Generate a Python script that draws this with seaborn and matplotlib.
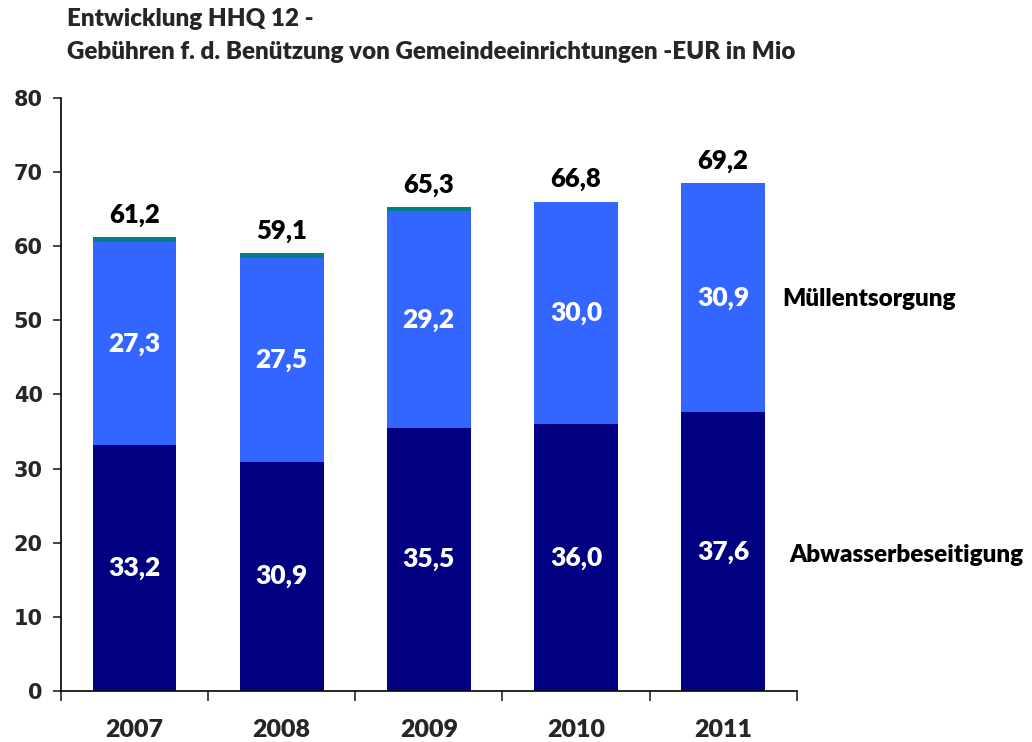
import seaborn as sns
import pandas as pd
import numpy as np
import matplotlib.pyplot as plt

# Data (EUR in Mio)
years = ["2007", "2008", "2009", "2010", "2011"]
abwasser = [33.2, 30.9, 35.5, 36.0, 37.6]
muell = [27.3, 27.5, 29.2, 30.0, 30.9]
sonstige = [0.7, 0.7, 0.6, 0.0, 0.0]
totals = [61.2, 59.1, 65.3, 66.8, 69.2]

df = pd.DataFrame({"Jahr": years, "Abwasser": abwasser, "Muell": muell, "Sonst": sonstige})

sns.set_theme(style="white")
plt.rcParams['font.family'] = ['Lato', 'DejaVu Sans']

fig = plt.figure(figsize=(10.32, 7.42), dpi=100)
ax = fig.add_axes([0.059, 0.0687, 0.713, 0.7995])

navy = "#000080"
blue = "#3366FF"
teal = "#008080"
w = 0.57

sns.barplot(data=df, x="Jahr", y="Abwasser", color=navy, width=w, saturation=1, ax=ax,
            linewidth=0)
sns.barplot(data=df, x="Jahr", y="Muell", color=blue, width=w, saturation=1, ax=ax,
            linewidth=0, bottom=df["Abwasser"])
sns.barplot(data=df, x="Jahr", y="Sonst", color=teal, width=w, saturation=1, ax=ax,
            linewidth=0, bottom=df["Abwasser"] + df["Muell"])

fmt = lambda v: f"{v:.1f}".replace(".", ",")

# Labels inside the bars
for i in range(len(years)):
    ax.text(i, abwasser[i] / 2, fmt(abwasser[i]), ha="center", va="center",
            color="white", fontsize=19, fontweight="heavy")
    ax.text(i, abwasser[i] + muell[i] / 2, fmt(muell[i]), ha="center", va="center",
            color="white", fontsize=19, fontweight="heavy")
    top = abwasser[i] + muell[i] + sonstige[i]
    ax.text(i, top + 3.0, fmt(totals[i]), ha="center", va="center",
            color="black", fontsize=18.5, fontweight="heavy")

ax.set_xlim(-0.5, 4.5)
ax.set_ylim(0, 80)
ax.set_yticks(np.arange(0, 81, 10))
ax.set_yticklabels([str(v) for v in range(0, 81, 10)], family="DejaVu Sans",
                   fontweight="bold", fontsize=15)
ax.set_xticks(np.arange(len(years)))
ax.set_xticklabels(years, fontsize=18, fontweight="heavy")
ax.tick_params(axis="x", length=0, pad=20)
ax.tick_params(axis="y", length=6, width=1.2, direction="out", left=True, pad=7)
# boundary ticks on x axis
ax.set_xticks(np.arange(-0.5, 5, 1), minor=True)
ax.tick_params(axis="x", which="minor", length=7, width=1.2, direction="out", bottom=True)
ax.set_xlabel("")
ax.set_ylabel("")
for s in ["top", "right"]:
    ax.spines[s].set_visible(False)
for s in ["left", "bottom"]:
    ax.spines[s].set_color("black")
    ax.spines[s].set_linewidth(1.2)

# Series names at the right
ax.text(4.405, 52.8, "Müllentsorgung", ha="left", va="center",
        fontsize=17.5, fontweight="heavy", color="black", clip_on=False)
ax.text(4.45, 18.4, "Abwasserbeseitigung", ha="left", va="center",
        fontsize=17.5, fontweight="heavy", color="black", clip_on=False)

fig.text(0.065, 0.975, "Entwicklung HHQ 12 -", ha="left", va="center", fontsize=17.4,
         fontweight="heavy")
fig.text(0.065, 0.930, "Gebühren f. d. Benützung von Gemeindeeinrichtungen -EUR in Mio",
         ha="left", va="center", fontsize=17.4, fontweight="heavy")

fig.savefig("out.png", dpi=100)
